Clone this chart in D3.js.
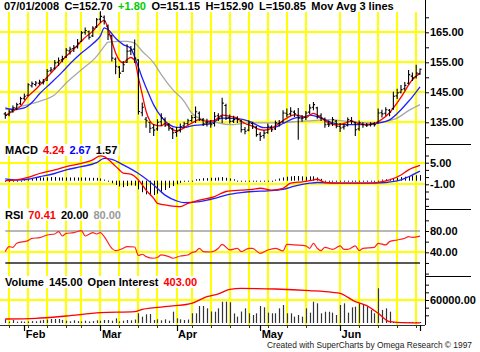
<!DOCTYPE html>
<html>
<head>
<meta charset="utf-8">
<script src="https://cdn.jsdelivr.net/npm/d3@7"></script>
<style>
body { margin: 0; background: #fff; }
svg text { font-family: "Liberation Sans", Arial, sans-serif; }
</style>
</head>
<body>
<div id="chart"></div>
<script>
// ---- data ----
var firstDay = "2008-01-25", lastDay = "2008-07-01";
var holidays = ["2008-02-18", "2008-03-21", "2008-05-26"];
// weekly grid lines as they sit in the picture
var gridWeeks = ["2008-01-28","2008-02-04","2008-02-11","2008-02-19","2008-02-25","2008-03-03","2008-03-10",
  "2008-03-17","2008-03-25","2008-04-01","2008-04-07","2008-04-14","2008-04-21","2008-04-28","2008-05-05",
  "2008-05-12","2008-05-19","2008-06-02","2008-06-09","2008-06-16","2008-06-23","2008-06-30"];
var monthNames = ["Jan","Feb","Mar","Apr","May","Jun","Jul"];

var opens = [137.8,137.5,138.8,139.5,141.2,143.0,144.0,147.2,147.6,148.0,
  148.2,149.0,152.2,153.0,155.0,155.8,156.8,158.8,159.6,160.2,
  162.0,165.0,165.2,163.8,166.8,169.4,170.0,167.0,163.8,
  156.0,153.4,152.0,155.0,158.8,159.4,155.8,138.2,136.0,135.0,
  133.2,132.8,135.2,136.0,134.2,132.8,131.6,132.4,133.8,134.6,
  135.6,136.6,138.0,135.8,134.8,135.0,134.6,137.2,136.8,140.6,
  136.6,135.4,136.2,135.4,132.6,132.4,134.6,133.4,131.0,130.6,
  131.6,133.4,132.8,134.6,135.2,138.0,137.8,138.4,137.2,136.2,
  136.6,138.4,140.0,139.8,137.2,136.0,134.4,134.6,135.4,
  133.6,133.4,134.0,135.6,134.8,132.8,134.4,134.0,134.2,134.6,
  135.0,138.2,138.0,139.0,139.6,143.8,145.0,146.2,148.0,150.4,
  150.2,151.15];
var highs = [138.4,139.2,140.6,141.5,143.5,144.6,148.0,148.6,148.8,149.2,
  149.4,152.8,153.4,155.8,156.6,157.2,159.8,160.2,160.8,162.8,
  165.4,166.6,165.6,167.0,169.8,172.0,170.6,167.6,164.2,
  156.6,153.8,155.4,161.0,160.4,162.6,156.0,141.6,136.8,135.2,
  134.4,136.0,138.0,136.6,134.8,133.2,133.4,134.6,135.2,136.2,
  137.4,140.3,138.6,136.4,136.2,135.8,138.4,138.0,143.2,141.2,
  137.6,137.2,137.0,135.8,133.4,135.6,135.2,133.8,131.8,132.4,
  134.6,134.0,135.6,135.8,139.0,139.6,140.0,139.0,139.8,137.4,
  138.8,141.0,141.8,140.2,138.0,136.6,135.6,136.8,135.8,
  134.8,134.4,136.6,136.8,135.2,135.6,135.0,134.8,135.0,135.0,
  139.6,139.2,140.0,139.4,145.2,146.2,147.4,148.4,152.4,151.6,
  154.2,152.9];
var lows = [136.2,137.0,138.2,139.0,140.8,142.4,143.8,146.6,147.0,147.4,
  147.6,148.8,151.6,152.6,153.8,155.0,156.4,157.6,158.4,159.6,
  161.8,164.2,162.6,163.4,166.4,168.2,167.6,162.4,155.3,
  151.0,149.8,151.8,154.8,157.4,154.8,137.6,137.0,133.2,131.4,
  130.4,132.2,133.8,133.4,132.2,129.4,130.2,131.6,133.0,134.0,
  135.0,134.8,135.4,133.8,133.6,133.2,133.6,135.4,134.8,135.8,
  134.6,134.8,134.8,131.6,131.0,132.0,132.8,130.2,128.8,129.6,
  131.2,131.8,132.4,133.6,134.8,136.8,137.2,136.8,129.2,135.2,
  135.8,137.8,139.0,136.2,135.4,133.2,133.4,133.8,133.0,
  131.8,132.6,133.6,134.4,130.4,132.2,133.2,133.4,133.6,133.6,
  134.6,136.6,137.2,137.0,139.2,142.8,144.6,145.6,147.6,148.8,
  149.6,150.85];
var closes = [137.3,138.5,139.8,140.9,142.9,143.7,147.5,147.9,148.1,148.4,
  148.5,152.0,152.5,154.8,155.5,156.2,159.0,159.4,160.0,161.4,
  164.8,165.6,163.3,166.4,169.2,170.3,168.7,164.2,156.4,
  153.7,151.4,154.2,158.7,159.2,156.4,138.6,140.0,135.5,133.0,
  132.4,135.0,136.5,134.0,133.0,131.5,132.0,133.5,134.5,135.5,
  136.5,138.5,136.0,134.5,135.0,134.2,137.0,136.4,141.4,136.4,
  135.3,135.9,135.9,132.5,132.0,134.8,133.7,130.9,130.3,131.4,
  133.7,132.5,134.8,134.8,138.1,137.5,138.7,137.8,136.4,136.4,
  138.1,139.8,140.9,137.0,136.4,134.2,134.2,135.9,133.7,
  133.1,133.7,135.9,135.3,132.5,134.8,134.2,134.0,134.4,134.2,
  138.1,137.8,139.2,138.4,143.7,144.8,145.9,147.3,150.9,149.8,
  151.4,152.7];

// moving averages, [bar index, value]
var maRed = [[0,137.3],[2,138.7],[4,140.3],[6,143.7],[8,146.0],[10,148.7],[12,151.4],[14,154.2],[16,157.0],
  [18,159.4],[20,162.0],[21,163.3],[23,165.4],[24,166.8],[26,169.0],[27,166.2],[28,162.0],[29,158.1],[30,155.6],
  [31,154.8],[32,155.9],[33,156.6],[34,155.6],[35,149.8],[36,144.2],[37,138.7],[38,135.5],[39,134.2],[41,133.8],
  [42,134.6],[44,132.6],[45,132.1],[46,132.5],[48,134.0],[49,134.7],[51,135.9],[53,135.3],[55,135.6],[57,137.4],
  [59,137.0],[61,136.4],[63,134.6],[65,133.7],[66,133.0],[68,132.4],[70,133.0],[72,134.7],[74,136.4],[76,137.5],
  [78,137.0],[79,136.6],[80,137.4],[81,138.0],[83,136.5],[85,134.8],[87,134.1],[89,134.6],[91,135.4],[93,134.5],
  [95,134.3],[97,134.6],[99,136.0],[101,138.2],[103,141.5],[105,145.3],[106,147.5],[108,150.4],[109,151.4]];
var maBlue = [[0,139.8],[2,139.2],[5,139.8],[7,141.6],[9,144.5],[12,148.1],[15,151.8],[17,154.5],[20,158.1],
  [23,161.2],[25,163.8],[26,166.5],[27,165.9],[29,163.0],[31,160.9],[33,159.6],[34,156.8],[36,149.8],[38,143.6],
  [39,140.8],[41,136.8],[43,134.3],[45,133.3],[47,133.3],[49,133.8],[52,134.2],[54,134.6],[57,136.4],[61,136.2],
  [64,135.4],[68,133.2],[71,133.4],[73,134.6],[76,136.4],[79,137.0],[80,137.4],[83,136.4],[86,134.8],[89,134.2],
  [92,134.2],[96,134.2],[98,134.7],[101,135.8],[104,139.2],[106,142.0],[107,143.5],[109,146.8]];
var maGray = [[0,139.2],[6,140.9],[9,142.0],[13,144.2],[16,148.1],[20,152.5],[24,157.0],[26,160.3],[27,161.7],
  [30,162.0],[32,162.0],[34,161.4],[36,158.7],[39,154.8],[41,150.9],[44,145.9],[47,142.0],[49,138.1],[52,135.9],
  [55,135.1],[59,134.2],[64,134.8],[70,134.8],[75,135.1],[80,135.5],[85,135.9],[90,135.3],[96,134.8],[99,135.1],
  [103,136.4],[106,138.9],[109,140.9]];

// MACD
var macdLine = [[0,0.0],[3,0.2],[6,0.9],[9,2.0],[13,3.0],[16,3.9],[20,4.8],[23,5.8],[25,6.9],[26,6.7],[28,5.0],
  [30,3.0],[31,2.1],[33,1.8],[35,0.2],[37,-2.6],[39,-4.9],[40,-6.3],[43,-6.9],[46,-7.2],[48,-6.3],[51,-5.4],
  [55,-4.4],[58,-3.0],[62,-2.6],[65,-2.4],[67,-2.1],[70,-2.6],[73,-2.1],[75,-0.7],[78,-0.3],[80,0.0],[82,0.4],
  [84,-0.5],[88,-0.7],[91,-0.7],[95,-0.7],[98,-0.45],[101,0.2],[104,1.6],[106,3.0],[109,4.24]];
var macdSignal = [[0,0.5],[3,0.2],[6,0.4],[9,1.1],[13,2.0],[16,3.0],[20,3.9],[24,5.0],[26,6.2],[28,5.9],[31,4.4],
  [35,2.0],[39,-1.2],[42,-4.0],[45,-5.6],[47,-6.1],[51,-5.8],[55,-4.9],[58,-4.0],[62,-3.3],[65,-3.0],[69,-2.8],
  [73,-2.4],[76,-1.5],[80,-0.7],[82,-0.5],[88,-0.7],[95,-0.7],[100,-0.5],[104,0.2],[106,1.1],[109,2.67]];
var macdHist = [0.1,-0.2,-0.1,0.0,0.2,0.4,0.5,0.7,0.8,0.9,
  0.9,0.9,1.0,1.0,0.9,0.9,0.9,0.9,0.9,0.9,
  0.9,0.9,0.8,0.8,0.8,0.6,0.3,-0.2,-0.7,
  -1.2,-1.6,-1.8,-1.5,-1.3,-1.4,-2.4,-3.2,-3.8,-4.1,
  -4.0,-3.6,-3.1,-2.6,-2.0,-1.5,-1.0,-0.6,-0.2,0.1,
  0.2,0.4,0.5,0.7,0.7,0.8,0.8,0.9,1.0,0.8,
  0.6,0.4,0.2,0.1,0.1,0.2,0.1,0.1,0.2,0.1,
  0.0,0.1,0.3,0.6,0.9,1.1,1.2,1.3,1.3,1.2,
  1.1,1.2,1.2,0.9,0.5,0.2,0.1,0.0,0.0,
  -0.1,0.0,0.1,0.0,0.0,0.1,0.0,0.0,0.1,0.1,
  0.2,0.3,0.4,0.5,0.7,0.8,1.0,1.1,1.3,1.4,
  1.5,1.57];

// RSI
var rsi = [[0,41.3],[1,50.6],[2,49.4],[3,56.9],[6,61.9],[7,66.3],[9,67.5],[11,72.5],[13,74.4],[14,78.8],[15,70.6],
  [16,75.6],[18,76.9],[20,80.6],[21,70.6],[23,76.9],[24,74.4],[25,76.9],[26,69.4],[28,47.5],[29,43.1],[31,47.5],
  [32,50.6],[34,50.0],[35,34.0],[36,36.3],[37,31.9],[39,28.8],[40,30.6],[41,35.0],[43,31.9],[44,28.8],[46,33.1],
  [48,35.0],[49,39.4],[50,41.3],[51,47.5],[52,41.3],[54,40.6],[56,47.5],[57,55.0],[59,44.4],[61,47.5],[62,41.3],
  [64,47.5],[65,47.5],[67,38.1],[69,44.4],[71,47.5],[73,42.5],[74,55.0],[76,53.8],[79,51.9],[80,47.5],[81,56.9],
  [82,47.5],[83,43.1],[84,49.4],[86,45.6],[88,51.9],[89,45.6],[90,45.6],[92,51.9],[93,43.1],[94,47.5],[97,49.4],
  [98,56.9],[100,53.8],[101,60.0],[103,63.1],[105,66.3],[106,69.4],[107,68.1],[109,70.41]];

// volume and open interest
var volume = [9600,3500,7800,3500,4500,3500,4000,5000,4500,6500,
  8000,9000,10400,10400,10400,8000,6000,4500,7000,5000,
  4000,6000,4000,5000,7000,6000,7800,7800,6000,12200,
  4000,6000,7800,7000,9000,25300,16500,22600,23500,7800,
  9600,7000,9600,6000,29500,12200,9600,7800,9000,25300,
  25300,44400,44400,38300,30000,29500,38300,55600,55600,54000,
  25000,16500,30000,38300,25300,20900,25300,44400,40900,27000,
  25300,25300,38300,47000,25300,25300,16500,20900,16500,38300,
  27000,55600,51300,25300,29500,29500,27000,20900,47000,51300,
  27000,40900,42600,51300,47000,42600,34000,25300,90700,34000,
  38300,29500,2500,1500,1200,900,700,500,300,145];
var openInterest = [[0,10400],[8,12200],[16,18300],[25,27000],[34,29500],[36,35700],[44,44400],[49,51300],
  [53,68700],[56,75700],[59,87900],[62,90500],[71,88700],[80,84400],[86,80000],[88,77500],[92,55600],
  [95,45200],[98,25300],[101,3500],[103,1800],[109,403]];

// ---- trading days ----
var parse = d3.timeParse("%Y-%m-%d"), fmt = d3.timeFormat("%Y-%m-%d");
var days = d3.timeDay.range(parse(firstDay), d3.timeDay.offset(parse(lastDay), 1))
  .filter(function(d) { return d.getDay() > 0 && d.getDay() < 6 && holidays.indexOf(fmt(d)) < 0; });
var dayIndex = {};
days.forEach(function(d, i) { dayIndex[fmt(d)] = i; });

var bars = days.map(function(d, i) {
  return {date: d, i: i, o: opens[i], h: highs[i], l: lows[i], c: closes[i], v: volume[i], hist: macdHist[i]};
});

// ---- svg and scales ----
var svg = d3.select("#chart").append("svg")
  .attr("width", 480)
  .attr("height", 352)
  .style("background", "#fff");

var axisX = 425;
var xScale = d3.scaleLinear().domain([0, days.length - 1]).range([5.3, 420]);
var yPrice = d3.scaleLinear().domain([135, 165]).range([122.3, 32.3]);
var yMacd = d3.scaleLinear().domain([-1, 5]).range([184.3, 162.7]);
var yRsi = d3.scaleLinear().domain([40, 80]).range([252.3, 231]);
var yVol = d3.scaleLinear().domain([0, 60000]).range([323, 300]);

var gridIdx = gridWeeks.map(function(s) { return dayIndex[s]; });
var monthStarts = bars.filter(function(b, i) { return i > 0 && b.date.getMonth() !== bars[i - 1].date.getMonth(); });

// yellow grid
var grid = svg.append("g").attr("stroke", "#ffff00").attr("stroke-width", 2);
grid.selectAll("line.v").data(gridIdx).enter().append("line")
  .attr("x1", function(d) { return Math.round(xScale(d)); })
  .attr("x2", function(d) { return Math.round(xScale(d)); })
  .attr("y1", 12).attr("y2", 325);

var hGrid = [[yPrice, 165], [yPrice, 155], [yPrice, 145], [yPrice, 135],
  [yMacd, 5], [yMacd, -1], [yRsi, 40], [yVol, 60000]];
grid.selectAll("line.h").data(hGrid).enter().append("line")
  .attr("x1", 0).attr("x2", axisX)
  .attr("y1", function(d) { return Math.round(d[0](d[1])); })
  .attr("y2", function(d) { return Math.round(d[0](d[1])); });

// panel labels on a white background, laid out left to right
function panelLabel(parts, x0, y, gap) {
  var g = svg.append("g");
  var bg = g.append("rect").attr("fill", "#fff");
  var x = x0;
  parts.forEach(function(p) {
    var t = g.append("text").attr("x", x).attr("y", y)
      .attr("font-size", 11).attr("font-weight", "bold")
      .attr("fill", p[1]).text(p[0]);
    x += t.node().getComputedTextLength() + gap;
  });
  var bb = g.node().getBBox();
  bg.attr("x", bb.x - 2).attr("y", bb.y).attr("width", bb.width + 4).attr("height", bb.height);
}

panelLabel([["07/01/2008", "#000"], ["C=152.70", "#000"], ["+1.80", "#00cc00"], ["O=151.15", "#000"],
  ["H=152.90", "#000"], ["L=150.85", "#000"], ["Mov Avg 3 lines", "#000"]], 4, 10, 5.5);
panelLabel([["MACD", "#000"], ["4.24", "#ff0000"], ["2.67", "#0000ff"], ["1.57", "#000"]], 5, 154, 5);
panelLabel([["RSI", "#000"], ["70.41", "#ff0000"], ["20.00", "#000"], ["80.00", "#999"]], 5, 218.5, 5);
panelLabel([["Volume", "#000"], ["145.00", "#000"], ["Open Interest", "#000"], ["403.00", "#ff0000"]], 5, 286, 5);

// lines helper
function drawLine(data, y, color, width) {
  svg.append("path")
    .datum(data)
    .attr("fill", "none")
    .attr("stroke", color)
    .attr("stroke-width", width)
    .attr("d", d3.line()
      .x(function(d) { return xScale(d[0]); })
      .y(function(d) { return y(d[1]); })
      .curve(d3.curveMonotoneX));
}

// price panel
drawLine(maGray, yPrice, "#a8a8a8", 1.3);
drawLine(maBlue, yPrice, "#2020ff", 1.3);
drawLine(maRed, yPrice, "#ff0000", 1.3);

svg.append("g").attr("stroke", "#000").attr("stroke-width", 1.1).attr("fill", "none")
  .selectAll("path").data(bars).enter().append("path")
  .attr("d", function(d) {
    var x = xScale(d.i);
    return "M" + x + "," + yPrice(d.h) + "V" + yPrice(d.l) +
      "M" + (x - 1.6) + "," + yPrice(d.o) + "H" + x +
      "M" + x + "," + yPrice(d.c) + "H" + (x + 1.6);
  });

// MACD panel
svg.append("g").attr("stroke", "#000").attr("stroke-width", 1)
  .selectAll("line").data(bars).enter().append("line")
  .attr("x1", function(d) { return Math.round(xScale(d.i)) + 0.5; })
  .attr("x2", function(d) { return Math.round(xScale(d.i)) + 0.5; })
  .attr("y1", yMacd(0))
  .attr("y2", function(d) {
    var h = yMacd(d.hist) - yMacd(0);
    if (Math.abs(h) < 1) h = 1;
    return yMacd(0) + h;
  });
drawLine(macdSignal, yMacd, "#2020ff", 1.3);
drawLine(macdLine, yMacd, "#ff0000", 1.3);

// RSI panel
svg.append("line").attr("x1", xScale(0)).attr("x2", xScale(days.length - 1))
  .attr("y1", yRsi(80)).attr("y2", yRsi(80)).attr("stroke", "#a0a0a0").attr("stroke-width", 1.5);
svg.append("line").attr("x1", xScale(0)).attr("x2", xScale(days.length - 1))
  .attr("y1", yRsi(20)).attr("y2", yRsi(20)).attr("stroke", "#222").attr("stroke-width", 1.5);
drawLine(rsi, yRsi, "#ff2020", 1.2);

// volume panel
svg.append("g").attr("stroke", "#333").attr("stroke-width", 1.2)
  .selectAll("line").data(bars).enter().append("line")
  .attr("x1", function(d) { return Math.round(xScale(d.i)) + 0.5; })
  .attr("x2", function(d) { return Math.round(xScale(d.i)) + 0.5; })
  .attr("y1", yVol(0))
  .attr("y2", function(d) { return Math.min(yVol(d.v), yVol(0) - 1); });
drawLine(openInterest, yVol, "#ff0000", 1.3);

// right axes
function rightAxis(scale, values, labeled) {
  var g = svg.append("g")
    .attr("transform", "translate(" + axisX + ",0)")
    .call(d3.axisRight(scale).tickValues(values).tickSize(4).tickPadding(1)
      .tickFormat(function(v) { return labeled.indexOf(v) >= 0 ? v.toFixed(2) : ""; }));
  g.select(".domain").remove();
  g.selectAll("line").attr("stroke", "#000");
  g.selectAll("text").attr("font-size", 11).attr("font-weight", "bold")
    .attr("font-family", "Liberation Sans, Arial, sans-serif").attr("fill", "#000");
}
rightAxis(yPrice, [130, 135, 140, 145, 150, 155, 160, 165, 170], [135, 145, 155, 165]);
rightAxis(yMacd, [-7, -5, -3, -1, 1, 3, 5, 7], [-1, 5]);
rightAxis(yRsi, [0, 20, 40, 60, 80, 100], [40, 80]);
rightAxis(yVol, [20000, 40000, 60000, 80000, 100000], [60000]);

svg.append("line").attr("x1", axisX + 0.5).attr("x2", axisX + 0.5).attr("y1", 0).attr("y2", 325)
  .attr("stroke", "#000").attr("stroke-width", 1);
[144, 209, 276].forEach(function(y) {
  svg.append("line").attr("x1", axisX).attr("x2", 471).attr("y1", y + 0.5).attr("y2", y + 0.5)
    .attr("stroke", "#000").attr("stroke-width", 1);
});

// bottom time axis
svg.append("line").attr("x1", 0).attr("x2", axisX).attr("y1", 325.5).attr("y2", 325.5)
  .attr("stroke", "#333").attr("stroke-width", 1.2);
svg.append("g").attr("stroke", "#333")
  .selectAll("line").data(gridIdx).enter().append("line")
  .attr("x1", function(d) { return Math.round(xScale(d)) + 0.5; })
  .attr("x2", function(d) { return Math.round(xScale(d)) + 0.5; })
  .attr("y1", 325).attr("y2", 328);
svg.append("g").attr("stroke", "#000").attr("stroke-width", 1.2)
  .selectAll("line").data(monthStarts).enter().append("line")
  .attr("x1", function(d) { return Math.round(xScale(d.i)) + 0.5; })
  .attr("x2", function(d) { return Math.round(xScale(d.i)) + 0.5; })
  .attr("y1", 325).attr("y2", 331);
svg.append("g").selectAll("text").data(monthStarts.filter(function(d) { return d.date.getMonth() < 6; }))
  .enter().append("text")
  .attr("x", function(d) { return xScale(d.i) + 1.5; })
  .attr("y", 338)
  .attr("font-size", 11).attr("font-weight", "bold")
  .text(function(d) { return monthNames[d.date.getMonth()]; });

svg.append("text")
  .attr("x", 472).attr("y", 347.5)
  .attr("text-anchor", "end")
  .attr("font-size", 8.4)
  .attr("fill", "#222")
  .text("Created with SuperCharts by Omega Research \u00a9 1997");
</script>
</body>
</html>
